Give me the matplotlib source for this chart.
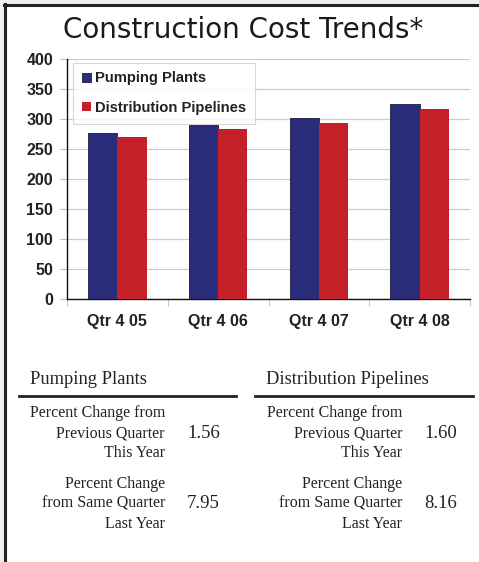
import matplotlib
matplotlib.use('Agg')
import matplotlib.pyplot as plt
from matplotlib.patches import Rectangle
from matplotlib.lines import Line2D
import numpy as np

# chart data
quarters = ['Qtr 4 05', 'Qtr 4 06', 'Qtr 4 07', 'Qtr 4 08']
pumping = [277, 290, 302, 325]
pipelines = [270, 284, 293, 317]
yticks = [0, 50, 100, 150, 200, 250, 300, 350, 400]

# table below the chart
pump_changes = ['1.56', '7.95']
pipe_changes = ['1.60', '8.16']
row_labels = ['Percent Change from\nPrevious Quarter\nThis Year',
              'Percent Change\nfrom Same Quarter\nLast Year']

W, H = 479, 562
fig = plt.figure(figsize=(W/100, H/100), dpi=100, facecolor='#eeeef0')

def fx(px): return px / W
def fy(py): return 1 - py / H

# white panel with dark border on top/left
fig.patches.append(Rectangle((fx(5), 0), 1 - fx(5), fy(5), transform=fig.transFigure,
                             facecolor='white', edgecolor='none', zorder=-10))
fig.lines.append(Line2D([fx(5), fx(5)], [0, fy(4)], transform=fig.transFigure, color='#222222', lw=2.2))
fig.lines.append(Line2D([fx(4), 1], [fy(5), fy(5)], transform=fig.transFigure, color='#222222', lw=2.2))

fig.text(fx(243), fy(30), 'Construction Cost Trends*', ha='center', va='center',
         fontsize=20, color='#1a1a1a', family='DejaVu Sans')

ax = fig.add_axes([fx(67), fy(299), fx(470) - fx(67), fy(59) - fy(299)])
x = np.arange(len(quarters))
bw = 0.29
ax.bar(x - bw/2, pumping, bw, color='#2a2d7c', edgecolor='#1a1a3a', linewidth=0.6,
       label='Pumping Plants', zorder=3)
ax.bar(x + bw/2, pipelines, bw, color='#c4202a', edgecolor='none',
       label='Distribution Pipelines', zorder=3)

ax.set_xlim(-0.5, len(quarters) - 0.5)
ax.set_ylim(0, 400)
ax.set_yticks(yticks)
ax.set_yticklabels([str(v) for v in yticks], fontweight='bold', fontsize=11.5,
                   family='Liberation Sans', color='#222222')
ax.set_xticks(x)
ax.set_xticklabels(quarters, fontweight='bold', fontsize=11.5, family='Liberation Sans',
                   color='#222222')
ax.set_xticks(np.arange(len(quarters) + 1) - 0.5, minor=True)
ax.tick_params(axis='x', which='major', length=0, pad=11)
ax.tick_params(axis='x', which='minor', length=5, color='#bbbbbb')
ax.tick_params(axis='y', length=5, color='#bbbbbb', pad=5)
ax.yaxis.grid(True, color='#cccccc', lw=0.9, zorder=0)
ax.set_axisbelow(True)
for s in ['top', 'right']:
    ax.spines[s].set_visible(False)
ax.spines['left'].set_color('#111111')
ax.spines['bottom'].set_color('#111111')
ax.spines['left'].set_linewidth(1.0)
ax.spines['bottom'].set_linewidth(1.0)

leg = ax.legend(loc='upper left', bbox_to_anchor=(0.015, 0.985), frameon=True, fancybox=False,
                prop={'family': 'Liberation Sans', 'weight': 'bold', 'size': 10.6},
                handlelength=0.6, handleheight=0.6, handletextpad=0.3,
                labelspacing=1.05, borderpad=0.6, borderaxespad=0)
leg.get_frame().set_edgecolor('#cccccc')
leg.get_frame().set_linewidth(0.8)
for t in leg.get_texts():
    t.set_color('#222222')

# lower table
serif = 'Liberation Serif'
blocks = [('Pumping Plants', 30, 19, 236, 165, 187, pump_changes),
          ('Distribution Pipelines', 266, 255, 473, 402, 424, pipe_changes)]
for title, tx, lx0, lx1, rx, nx, vals in blocks:
    fig.text(fx(tx), fy(380), title, ha='left', va='center', fontsize=13.3,
             family=serif, color='#222222')
    fig.lines.append(Line2D([fx(lx0), fx(lx1)], [fy(396), fy(396)], transform=fig.transFigure,
                            color='#222222', lw=2))
    for i, (lab, v) in enumerate(zip(row_labels, vals)):
        yc = 433 + i * 71
        fig.text(fx(rx), fy(yc), lab, ha='right', va='center', fontsize=11.5,
                 family=serif, color='#222222', linespacing=1.35, multialignment='right')
        fig.text(fx(nx), fy(yc), v, ha='left', va='center', fontsize=13.5,
                 family=serif, color='#222222')

fig.savefig('out.png', dpi=100, facecolor=fig.get_facecolor())
